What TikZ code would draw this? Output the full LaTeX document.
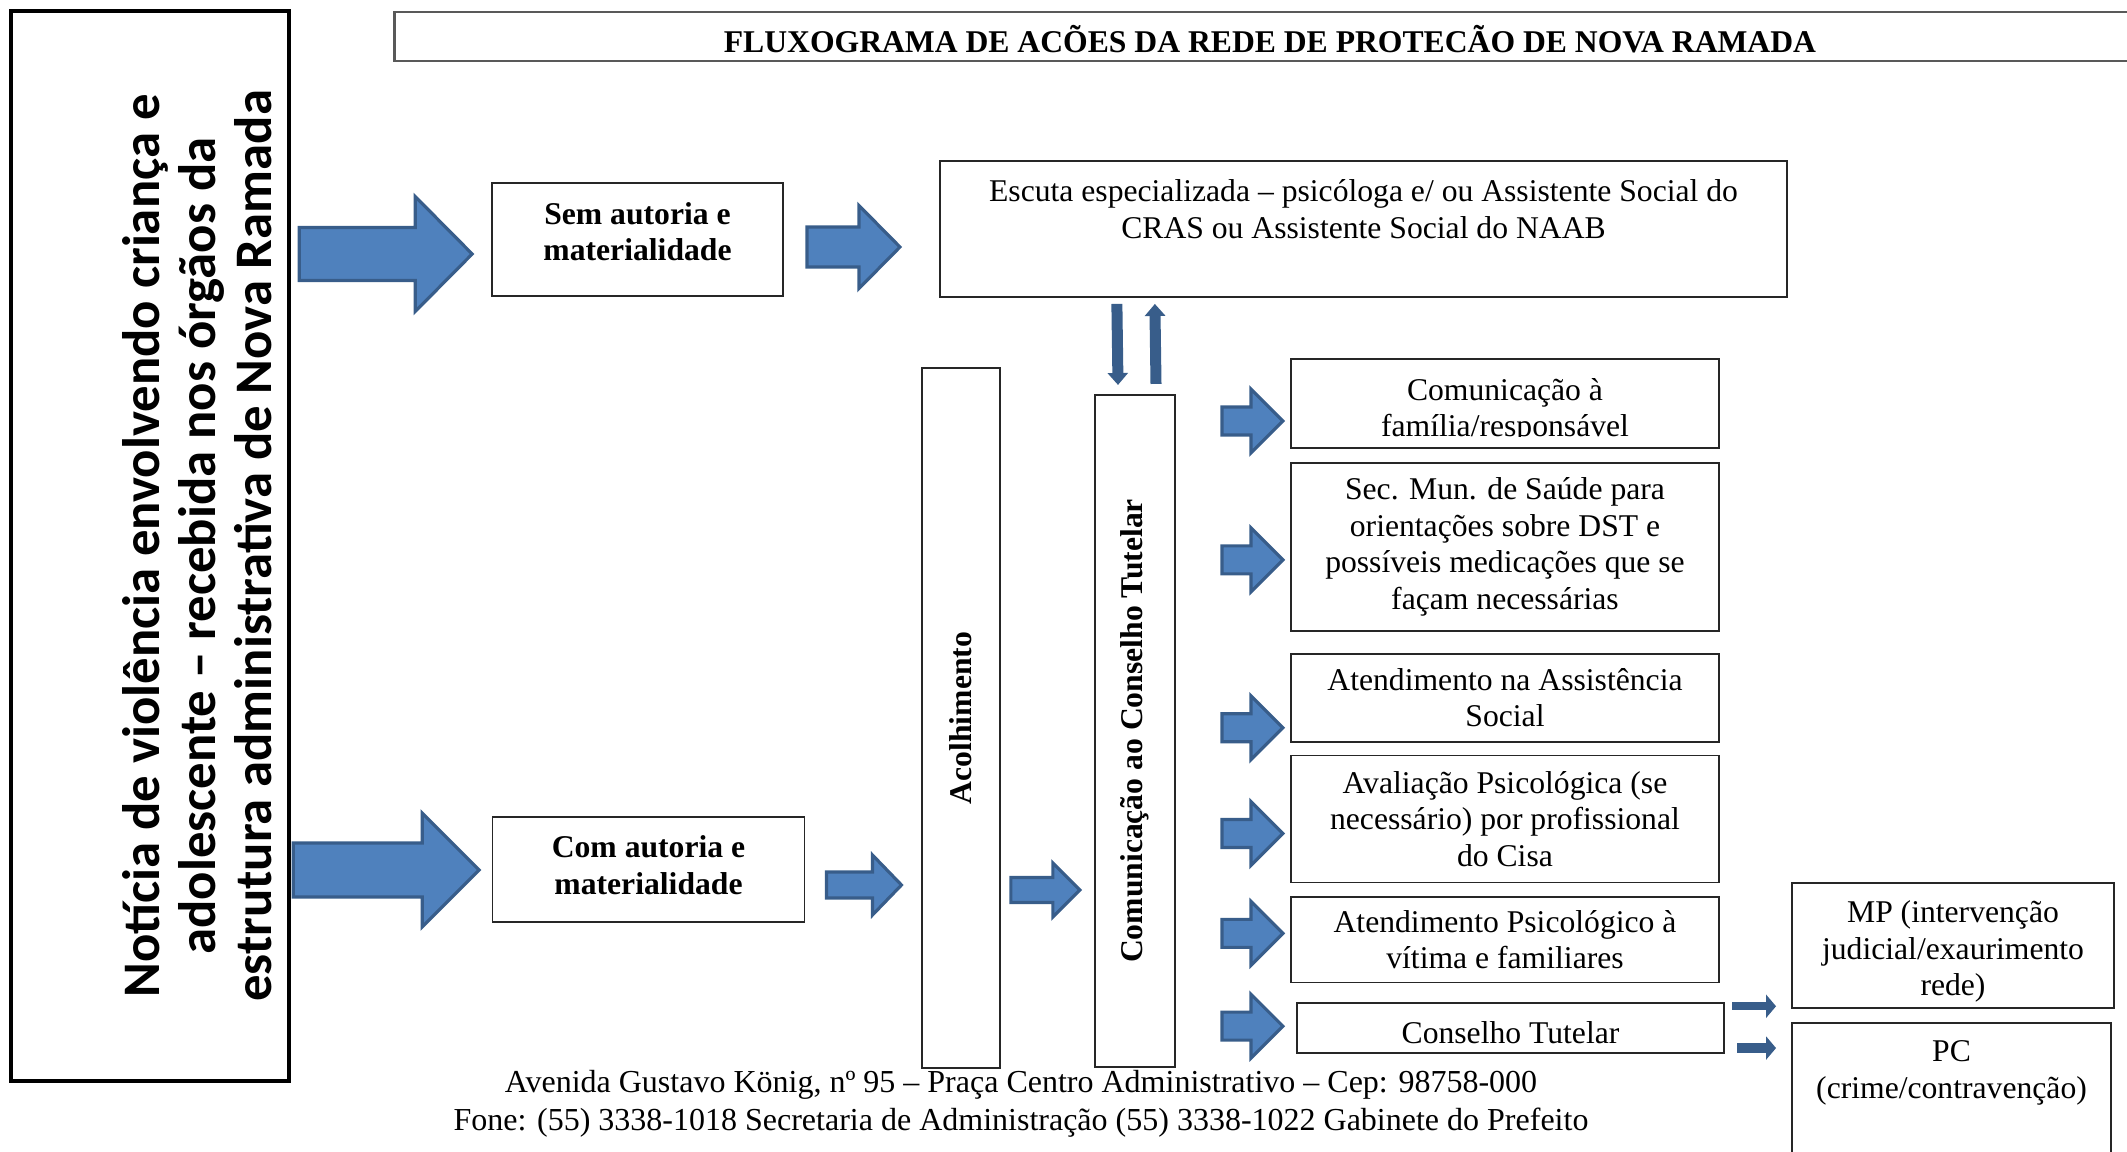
\documentclass[tikz,border=0pt]{standalone}
\usepackage{fontspec}
\setmainfont{Liberation Serif}
\newfontfamily\noticefont{Carlito}
\usetikzlibrary{positioning, calc, arrows.meta}

\definecolor{arrowfill}{HTML}{4F81BD}
\definecolor{arrowedge}{HTML}{385D8A}
\definecolor{boxline}{HTML}{262626}

\newcommand{\boxfont}{\fontsize{9}{10.4}\selectfont}
% tail point, shaft length, total length, half shaft, half head
\newcommand{\blockarrow}[5]{%
  \filldraw[blockarrow, shift={(#1)}] (0,-#4) -- (#2,-#4) -- (#2,-#5) -- (#3,0)
    -- (#2,#5) -- (#2,#4) -- (0,#4) -- cycle;}

\tikzset{
  box/.style={draw=boxline, line width=0.5pt, fill=white, inner sep=0pt, font=\boxfont, align=center},
  sidebox/.style={box, minimum width=4.28cm},
  boxtext/.style={align=center, font=\boxfont, inner sep=0pt},
  blockarrow/.style={fill=arrowfill, draw=arrowedge, line width=0.9pt, line join=miter},
  vertarrow/.style={draw=arrowedge, line width=0.11cm, -{Triangle[width=0.2cm, length=0.12cm]}},
  smallarrow/.style={draw=arrowedge, line width=#1, -{Triangle[width=0.23cm, length=0.1cm]}}
}

\begin{document}
\begin{tikzpicture}[x=0.01cm, y=-0.01cm]
\useasboundingbox (0,0) rectangle (2127,1151);

% left column
\node[box, draw=black, line width=1.2pt, minimum width=2.78cm, minimum height=10.7cm] (notice) at (150,546) {};
\node[rotate=90, align=center, font=\noticefont\bfseries\fontsize{15}{16}\selectfont] (noticetext) at (197,546)
  {Notícia de violência envolvendo criança e\\ adolescente – recebida nos órgãos da\\ estrutura administrativa de Nova Ramada};

% title
\node[box, draw=gray!70!black, line width=0.7pt, minimum width=17.5cm, minimum height=0.49cm] (title) at (1270,36.5) {};
\node[boxtext, font=\boxfont\bfseries] (titletext) at ($(title)+(0,3)$) {FLUXOGRAMA DE ACÕES DA REDE DE PROTECÃO DE NOVA RAMADA};

% entry boxes
\node[box, minimum width=2.91cm, minimum height=1.13cm] (sem) at (637.5,239.5) {};
\node[boxtext, font=\boxfont\bfseries] (semtext) at ($(sem)+(0,-8)$) {Sem autoria e\\ materialidade};
\node[box, minimum width=3.12cm, minimum height=1.05cm] (com) at (648.5,869.5) {};
\node[boxtext, font=\boxfont\bfseries] (comtext) at ($(com)+(0,-4.5)$) {Com autoria e\\ materialidade};

\node[box, minimum width=8.47cm, minimum height=1.36cm] (esc) at (1363.5,229) {};
\node[boxtext, anchor=north] (esctext) at ($(esc.north)+(0,19)$)
  {Escuta especializada – psicóloga e/ ou Assistente Social do\\ CRAS ou Assistente Social do NAAB};

% vertical boxes
\node[box, minimum width=0.78cm, minimum height=7cm] (acol) at (961,718) {};
\node[rotate=90, font=\boxfont\bfseries] (acoltext) at (acol) {Acolhimento};
\node[box, minimum width=0.8cm, minimum height=6.72cm] (comun) at (1135,731) {};
\node[rotate=90, font=\boxfont\bfseries] (comuntext) at (comun) {Comunicação ao Conselho Tutelar};

% right column
\node[sidebox, minimum height=0.89cm] (fam) at (1505,403.5) {};
\begin{scope}
  \clip ($(fam.south west)+(0,-12)$) rectangle (fam.north east);
  \node[boxtext, anchor=north] (famtext) at ($(fam.north)+(0,19.5)$) {Comunicação à\\ família/responsável};
\end{scope}
\node[sidebox, minimum height=1.68cm, below=0.13cm of fam] (sau)
  {Sec. Mun. de Saúde para\\ orientações sobre DST e\\ possíveis medicações que se\\ façam necessárias};
\node[sidebox, minimum height=0.88cm, below=0.21cm of sau] (ass) {Atendimento na Assistência\\ Social};
\node[sidebox, minimum height=1.27cm, below=0.12cm of ass] (ava)
  {Avaliação Psicológica (se\\ necessário) por profissional\\ do Cisa};
\node[sidebox, minimum height=0.85cm, below=0.13cm of ava] (psi) {Atendimento Psicológico à\\ vítima e familiares};
\node[sidebox, minimum width=4.27cm, minimum height=0.5cm, below=0.19cm of psi, xshift=0.055cm] (ct) {};
\node[boxtext] (cttext) at ($(ct)+(0,5)$) {Conselho Tutelar};

\node[box, minimum width=3.22cm, minimum height=1.25cm] (mp) at (1953,945.5) {};
\node[boxtext] (mptext) at ($(mp)+(0,6)$) {MP (intervenção\\ judicial/exaurimento\\ rede)};
\node[box, minimum width=3.19cm, minimum height=1.57cm] (pc) at (1951.5,1101.5) {};
\node[boxtext, anchor=north] (pctext) at ($(pc.north)+(0,18)$) {PC\\ (crime/contravenção)};

% footer
\node[align=center, font=\fontsize{9.1}{10.8}\selectfont, inner sep=0pt] (footer) at (1021,1104)
  {Avenida Gustavo König, nº 95 – Praça Centro Administrativo – Cep: 98758-000\\
   Fone: (55) 3338-1018 Secretaria de Administração (55) 3338-1022 Gabinete do Prefeito};

% block arrows
\blockarrow{$(notice.east |- sem.west)+(8,14.5)$}{116}{173}{26.5}{57.5}
\blockarrow{$(notice.east |- com.west)+(2,0.5)$}{129}{186}{27}{57}
\blockarrow{$(sem.east)+(23,7.5)$}{52}{93}{20}{41.5}
\blockarrow{$(com.east)+(21,15.5)$}{46}{75}{13}{30}
\blockarrow{$(acol.east)+(10,172)$}{42}{69}{12.5}{27}
\foreach \b/\dy in {fam/17.5, sau/13, ass/30, ava/14.5, psi/-6.5, ct/-2}
  \blockarrow{$(comun.east |- \b.west)+(46,\dy)$}{29}{61}{14}{32};

% thin arrows
\draw[vertarrow] ($(esc.south west)+(178,6)$) -- ($(comun.north)+(-17,-9)$);
\draw[vertarrow] ($(comun.north)+(21,-10)$) -- ($(esc.south west)+(216,6)$);
\draw[smallarrow=0.08cm] ($(ct.north east)+(7,4)$) -- ($(ct.north east -| mp.west)+(-15,4)$);
\draw[smallarrow=0.1cm] ($(ct.south east)+(12,-6)$) -- ($(ct.south east -| pc.west)+(-15,-6)$);
\end{tikzpicture}
\end{document}
